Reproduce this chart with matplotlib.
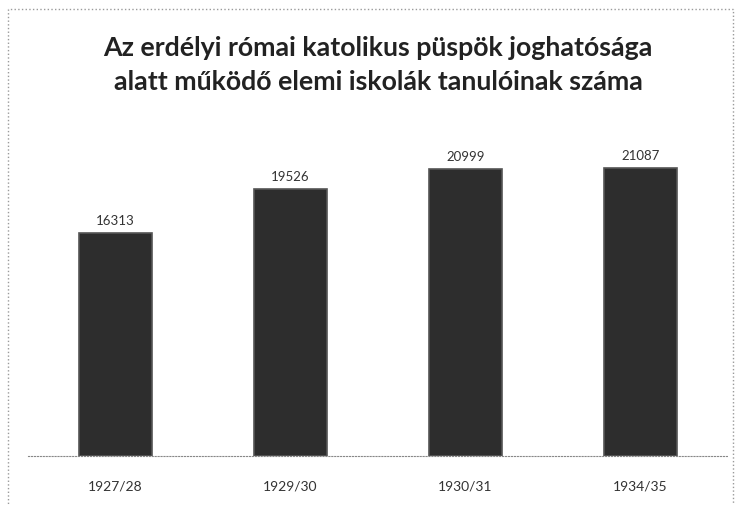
import matplotlib.pyplot as plt
from matplotlib.patches import Rectangle

# %% data
years = ['1927/28', '1929/30', '1930/31', '1934/35']
students = [16313, 19526, 20999, 21087]
title = 'Az erdélyi római katolikus püspök joghatósága\nalatt működő elemi iskolák tanulóinak száma'

# %% figure
fig = plt.figure(figsize=(7.36, 5.06), dpi=100)
plt.rcParams['font.family'] = ['Lato', 'DejaVu Sans']

# dotted chart frame
fig.patches.append(Rectangle((8/736, -0.05), 725/736, 1.05 - 10/506, transform=fig.transFigure,
                             fill=False, edgecolor='#9a9a9a', linestyle=':', linewidth=1.0))

ax = fig.add_axes([28/736, 49/506, 700/736, 342/506])
x = range(len(years))
bars = ax.bar(x, students, width=0.42, color='#2d2d2d', edgecolor='#555555', linewidth=1.2)

for xi, v in zip(x, students):
    ax.text(xi, v + 500, str(v), ha='center', va='bottom', fontsize=9.5, color='#333333')

ax.set_xlim(-0.5, len(years) - 0.5)
ax.set_ylim(0, 25000)
ax.set_xticks(list(x))
ax.set_xticklabels(years, fontsize=10, color='#333333')
ax.tick_params(axis='x', length=0, pad=17)
ax.set_yticks([])
for s in ['top', 'right', 'left']:
    ax.spines[s].set_visible(False)
ax.spines['bottom'].set_linestyle(':')
ax.spines['bottom'].set_color('#888888')

fig.text(378/736, 1 - 65/506, title, ha='center', va='center', fontsize=19.3,
         fontweight='bold', color='#222222', linespacing=1.45)

fig.savefig('out.png', dpi=100)
